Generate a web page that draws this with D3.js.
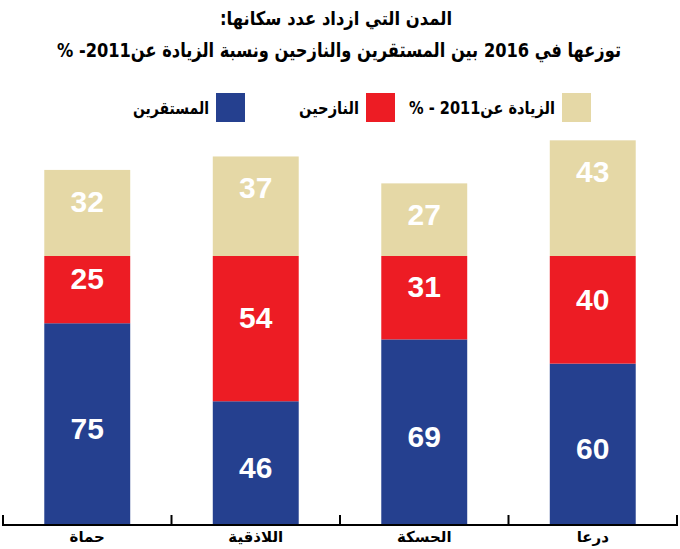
<!DOCTYPE html>
<html>
<head>
  <meta charset="utf-8">
  <title>المدن التي ازداد عدد سكانها</title>
  <script src="https://d3js.org/d3.v7.min.js"></script>
  <style>
    body { margin: 0; background: #fff; }
    svg { display: block; }
    .ar { font-family: "DejaVu Sans", sans-serif; font-weight: bold; direction: rtl; }
    .num { font-family: "Liberation Sans", Arial, sans-serif; font-weight: bold; fill: #fff; }
  </style>
</head>
<body>
  <svg width="680" height="549"></svg>

  <script>
    // data, left to right as drawn
    const cities = ["حماة", "اللاذقية", "الحسكة", "درعا"];
    const settled = [75, 46, 69, 60];     // المستقرين
    const displaced = [25, 54, 31, 40];   // النازحين
    const increase = [32, 37, 27, 43];    // الزيادة عن 2011 - %

    const seriesKeys = ["settled", "displaced", "increase"];
    const seriesNames = ["المستقرين", "النازحين", "الزيادة عن2011 - %"];
    const colors = ["#25408f", "#ed1c24", "#e5d8a6"];

    const titleLine1 = "المدن التي ازداد عدد سكانها:";
    const titleLine2 = "توزعها في 2016 بين المستقرين والنازحين ونسبة الزيادة عن2011- %";

    const svg = d3.select("svg");

    const rows = cities.map((c, i) => ({
      city: c, settled: settled[i], displaced: displaced[i], increase: increase[i]
    }));

    const stacked = d3.stack().keys(seriesKeys)(rows);

    const x = d3.scaleBand().domain(cities).range([3, 677]).padding(0);
    const y = d3.scaleLinear().domain([0, 100]).range([525, 256]);
    const barW = x.bandwidth() * 0.51;

    // titles (squeezed to the width of the condensed original face)
    svg.append("text").attr("class", "ar")
      .attr("x", 336).attr("y", 25)
      .attr("text-anchor", "middle")
      .attr("textLength", 232).attr("lengthAdjust", "spacingAndGlyphs")
      .style("font-size", "19px")
      .text(titleLine1);

    svg.append("text").attr("class", "ar")
      .attr("x", 339).attr("y", 57)
      .attr("text-anchor", "middle")
      .attr("textLength", 564).attr("lengthAdjust", "spacingAndGlyphs")
      .style("font-size", "20px")
      .text(titleLine2);

    // legend (right to left)
    const legendX = [216, 366, 562];
    const legendW = [76, 60, 146];
    const legend = svg.append("g");
    seriesKeys.forEach((k, i) => {
      legend.append("rect")
        .attr("x", legendX[i]).attr("y", 93)
        .attr("width", 29).attr("height", 29)
        .attr("fill", colors[i]);
      legend.append("text").attr("class", "ar")
        .attr("x", legendX[i] - 7 - legendW[i]).attr("y", 114)
        .attr("text-anchor", "end")
        .attr("textLength", legendW[i]).attr("lengthAdjust", "spacingAndGlyphs")
        .style("font-size", "17px")
        .text(seriesNames[i]);
    });

    // bars
    const layer = svg.selectAll("g.layer")
      .data(stacked)
      .enter().append("g")
      .attr("class", "layer")
      .attr("fill", (d, i) => colors[i]);

    layer.selectAll("rect")
      .data(d => d)
      .enter().append("rect")
      .attr("x", d => x(d.data.city) + (x.bandwidth() - barW) / 2)
      .attr("y", d => y(d[1]))
      .attr("width", barW)
      .attr("height", d => y(d[0]) - y(d[1]));

    // value labels
    const labelY = {
      settled: d => (y(d[0]) + y(d[1])) / 2 + 4,
      displaced: d => (y(d[0]) + y(d[1])) / 2 - 11,
      increase: d => y(d[1]) + 31
    };
    layer.each(function(s) {
      d3.select(this).selectAll("text")
        .data(s)
        .enter().append("text")
        .attr("class", "num")
        .attr("x", d => x(d.data.city) + x.bandwidth() / 2)
        .attr("y", d => labelY[s.key](d))
        .attr("dy", "0.36em")
        .attr("text-anchor", "middle")
        .style("font-size", "30px")
        .text(d => d.data[s.key]);
    });

    // bottom axis
    const axis = svg.append("g").attr("transform", "translate(0,525)");
    axis.append("line")
      .attr("x1", 3).attr("x2", 677)
      .attr("stroke", "#000").attr("stroke-width", 2);
    const edges = cities.map(c => x(c)).concat([x.range()[1]]);
    axis.selectAll("line.tick")
      .data(edges)
      .enter().append("line")
      .attr("class", "tick")
      .attr("x1", d => d).attr("x2", d => d)
      .attr("y1", -10).attr("y2", 1)
      .attr("stroke", "#000").attr("stroke-width", 2);
    axis.selectAll("text")
      .data(cities)
      .enter().append("text")
      .attr("class", "ar")
      .attr("x", d => x(d) + x.bandwidth() / 2)
      .attr("y", 17)
      .attr("text-anchor", "middle")
      .style("font-size", "15px")
      .text(d => d);
  </script>
</body>
</html>
